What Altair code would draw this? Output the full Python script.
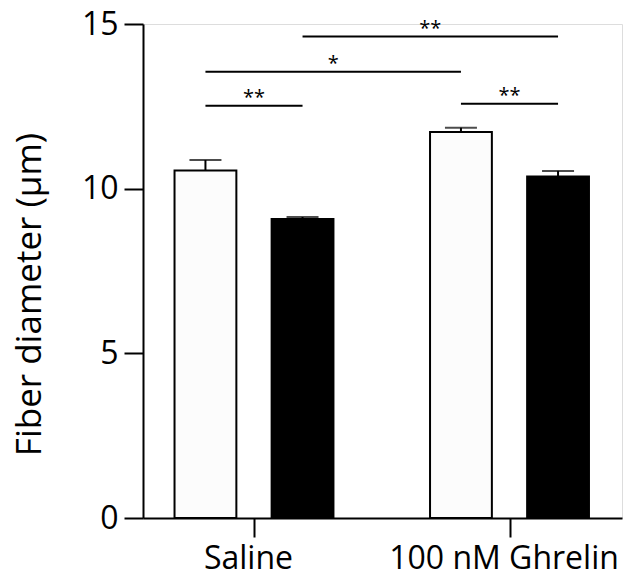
import altair as alt
import pandas as pd

groups = ["Saline", "100 nM Ghrelin"]
conditions = ["Control", "Treated"]
means = [[10.55, 9.08], [11.72, 10.37]]
sems = [[0.32, 0.06], [0.13, 0.17]]

sig_start = [0, 0, 1, 2]
sig_end = [1, 2, 3, 3]
sig_level = [12.52, 13.55, 14.62, 12.58]
sig_label = ["**", "*", "**", "**"]

FONT = "Open Sans"
OFF = 0.19
HALF = 0.121

rows = []
for gi, g in enumerate(groups):
    for ci, c in enumerate(conditions):
        rows.append({"group": g, "cond": c, "gi": gi, "ci": ci,
                     "mean": means[gi][ci], "sem": sems[gi][ci]})
bars = pd.DataFrame(rows)
bars["xc"] = bars["gi"] + (bars["ci"] - 0.5) * 2 * OFF
bars["xl"] = bars["xc"] - HALF
bars["xr"] = bars["xc"] + HALF
bars["top"] = bars["mean"] + bars["sem"]

centers = list(bars["xc"])
sig = pd.DataFrame({
    "x1": [centers[i] for i in sig_start],
    "x2": [centers[i] for i in sig_end],
    "y": sig_level,
    "label": sig_label,
})
sig["xm"] = (sig["x1"] + sig["x2"]) / 2

xscale = alt.Scale(domain=[-0.4344, 1.4403], nice=False, zero=False)
yscale = alt.Scale(domain=[0, 15], nice=False)

xaxis = alt.Axis(values=[0, 1], labelExpr="datum.value == 0 ? 'Saline' : '100 nM Ghrelin'",
                 title=None, grid=False, domainColor="black", domainWidth=2,
                 tickColor="black", tickWidth=2, tickSize=19, labelFontSize=32,
                 labelFont=FONT, labelColor="black", labelPadding=6, labelLimit=0,
                 labelOffset=-6)
yaxis = alt.Axis(values=[0, 5, 10, 15], title="Fiber diameter (µm)", grid=False,
                 domainColor="black", domainWidth=2, tickColor="black", tickWidth=2,
                 tickSize=19, labelFontSize=32, labelFont=FONT, labelColor="black",
                 labelPadding=6, titleFontSize=35, titleFont=FONT, titleFontWeight="normal",
                 titleColor="black", titleX=-131, titleY=270, titleBaseline="top",
                 titleAngle=270)

base = alt.Chart(bars)

errline = base.mark_rule(color="black", strokeWidth=2).encode(
    x=alt.X("xc:Q", scale=xscale, axis=xaxis),
    y=alt.Y("mean:Q", scale=yscale, axis=yaxis),
    y2="top:Q",
)
cap = base.mark_tick(color="black", thickness=2, size=32, orient="horizontal").encode(
    x=alt.X("xc:Q", scale=xscale),
    y=alt.Y("top:Q", scale=yscale),
)
barmark = base.mark_bar(stroke="black", strokeWidth=2).encode(
    x=alt.X("xl:Q", scale=xscale),
    x2="xr:Q",
    y=alt.Y("mean:Q", scale=yscale),
    y2=alt.datum(0),
    fill=alt.Fill("cond:N", scale=alt.Scale(domain=conditions, range=["#fcfcfc", "black"]), legend=None),
)

sigbase = alt.Chart(sig)
siglines = sigbase.mark_rule(color="black", strokeWidth=2).encode(
    x=alt.X("x1:Q", scale=xscale), x2="x2:Q", y=alt.Y("y:Q", scale=yscale)
)
sigtext = sigbase.mark_text(font=FONT, fontSize=20, color="black", baseline="middle", dy=-8).encode(
    x=alt.X("xm:Q", scale=xscale), y=alt.Y("y:Q", scale=yscale), text="label:N"
)

chart = alt.layer(errline, cap, barmark, siglines, sigtext).properties(
    width=479, height=494,
    autosize=alt.AutoSizeParams(type="none"),
    padding={"left": 135, "top": 16, "right": 8, "bottom": 52},
).configure_view(stroke=None).configure(background="white")

chart.save("out.html", embed_options={"renderer": "svg", "actions": False})
